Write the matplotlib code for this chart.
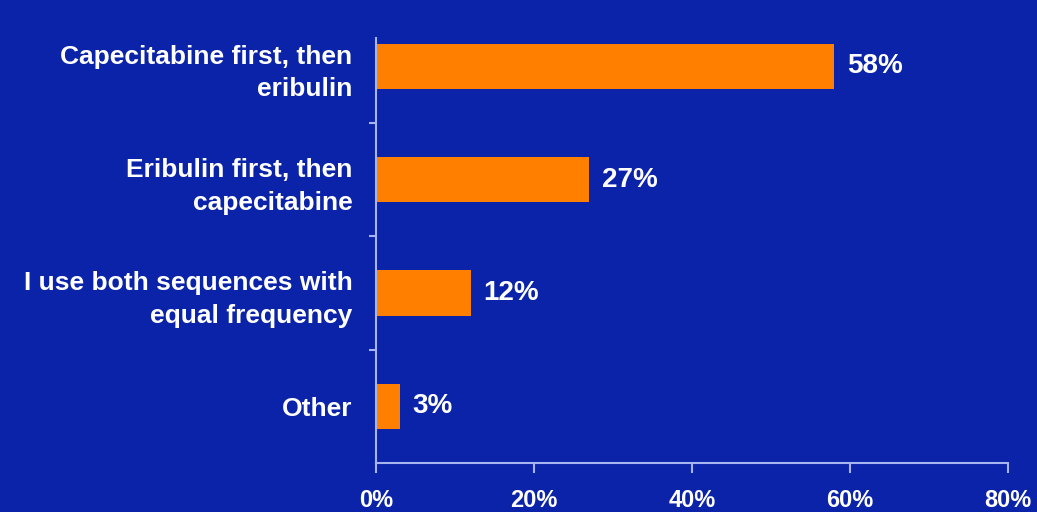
import matplotlib
matplotlib.use("Agg")
import matplotlib.pyplot as plt

categories = ["Capecitabine first, then\neribulin",
              "Eribulin first, then\ncapecitabine",
              "I use both sequences with\nequal frequency",
              "Other"]
values = [58, 27, 12, 3]
xticks = [0, 20, 40, 60, 80]
xticklabels = ["0%", "20%", "40%", "60%", "80%"]

bg = "#0a23a8"
orange = "#ff7f00"
axcol = "#a8b4f0"

plt.rcParams['font.family'] = ['Liberation Sans', 'DejaVu Sans']

fig = plt.figure(figsize=(10.37, 5.12), dpi=100, facecolor=bg)
ax = fig.add_axes([0.3626, 0.0957, 0.6094, 0.8301], facecolor=bg)

ypos = list(range(len(categories)))
ax.barh(ypos, values, height=0.4, color=orange)
for y, v in zip(ypos, values):
    ax.text(v + 1.6, y, f"{v}%", color="white", fontsize=20, fontweight="bold",
            va="center", ha="left")

ax.set_xlim(0, 80)
ax.set_ylim(3.5, -0.25)
ax.set_xticks(xticks)
ax.set_xticklabels(xticklabels, color="white", fontsize=17, fontweight="bold")
ax.set_yticks([0.5, 1.5, 2.5], minor=False)
ax.set_yticklabels([])
ax.set_yticks(ypos, minor=True)
ax.set_yticklabels(categories, minor=True, color="white", fontsize=19,
                   fontweight="bold", linespacing=1.45)
ax.tick_params(axis="y", which="minor", length=0, pad=17)
ax.tick_params(axis="y", which="major", length=5, color=axcol, width=1.5)
ax.tick_params(axis="x", length=7, color=axcol, width=1.5, pad=12)

for s in ["top", "right"]:
    ax.spines[s].set_visible(False)
for s in ["left", "bottom"]:
    ax.spines[s].set_color(axcol)
    ax.spines[s].set_linewidth(1.5)

fig.savefig("out.png", dpi=100, facecolor=bg)
